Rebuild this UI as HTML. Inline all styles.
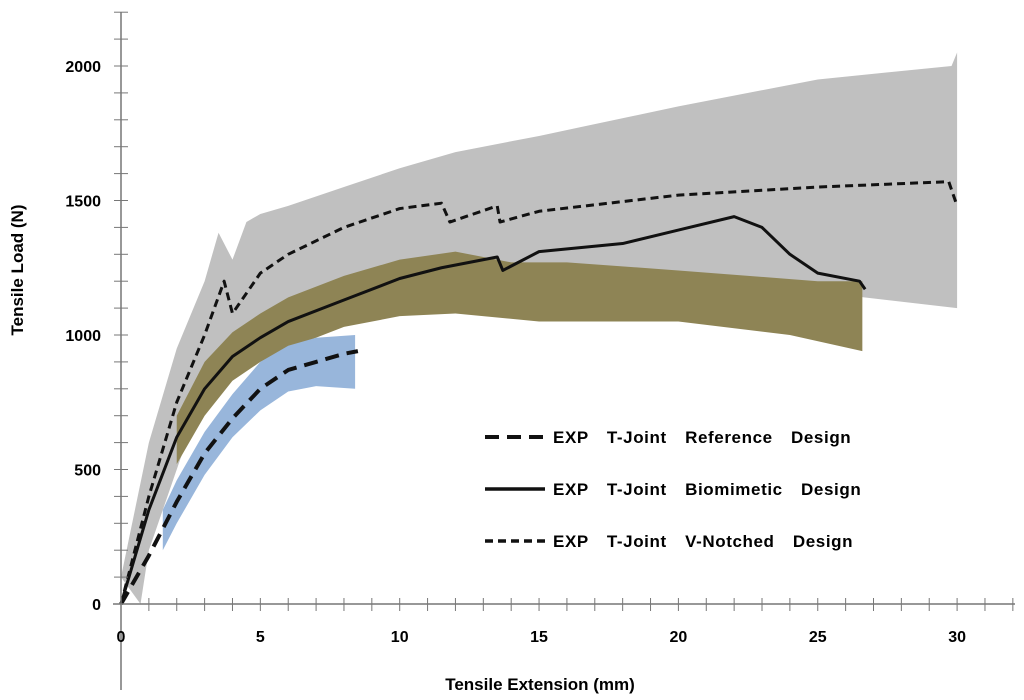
<!DOCTYPE html>
<html><head><meta charset="utf-8"><style>
body{margin:0;background:#fff;}
svg{display:block;font-family:"Liberation Sans",sans-serif;}
</style></head><body>
<svg id="chart" width="1024" height="700">
<g id="bands"></g><g id="lines"></g><g id="axes"></g>
<g id="legend">
 <line x1="485" y1="437" x2="545" y2="437" stroke="#111" stroke-width="4" stroke-dasharray="14,8"/>
 <text x="553" y="443" font-size="17" font-weight="bold" letter-spacing="0.6" word-spacing="13">EXP T-Joint Reference Design</text>
 <line x1="485" y1="489" x2="545" y2="489" stroke="#111" stroke-width="3.5"/>
 <text x="553" y="495" font-size="17" font-weight="bold" letter-spacing="0.6" word-spacing="13">EXP T-Joint Biomimetic Design</text>
 <line x1="485" y1="541" x2="545" y2="541" stroke="#111" stroke-width="3.5" stroke-dasharray="8,5"/>
 <text x="553" y="547" font-size="17" font-weight="bold" letter-spacing="0.6" word-spacing="13">EXP T-Joint V-Notched Design</text>
</g>
<text x="540" y="690" text-anchor="middle" font-size="17" font-weight="bold">Tensile Extension (mm)</text>
<text transform="translate(23,270) rotate(-90)" text-anchor="middle" font-size="17" font-weight="bold">Tensile Load (N)</text>
</svg>
<script>
const xTicks=[0,5,10,15,20,25,30];
const yTicks=[0,500,1000,1500,2000];
// V-notched
const vnX=[0,1,2,3,3.7,4,5,6,8,10,11.5,11.8,13.5,13.6,15,20,25,29.7,30];
const vnY=[0,400,750,1000,1200,1080,1230,1300,1400,1470,1490,1420,1480,1420,1460,1520,1550,1570,1480];
const grayUX=[0,1,2,3,3.5,4,4.5,5,6,8,10,12,15,20,25,29.8,30];
const grayUY=[100,600,950,1200,1380,1280,1420,1450,1480,1550,1620,1680,1740,1850,1950,2000,2050];
const grayLX=[0.7,1,2,3,4,5,8,10,15,20,25,30];
const grayLY=[0,200,500,800,950,1020,1150,1200,1180,1170,1160,1100];
// Biomimetic
const bioX=[0,1,2,3,4,5,6,8,10,11.5,13.5,13.7,15,18,20,22,23,24,25,26.5,26.7];
const bioY=[0,350,620,800,920,990,1050,1130,1210,1250,1290,1240,1310,1340,1390,1440,1400,1300,1230,1200,1170];
const oliveUX=[2,3,4,5,6,8,10,12,14,16,20,25,26.6];
const oliveUY=[700,900,1010,1080,1140,1220,1280,1310,1270,1270,1240,1200,1200];
const oliveLX=[2,3,4,5,6,8,10,12,15,20,24,26.6];
const oliveLY=[520,700,830,900,950,1030,1070,1080,1050,1050,1000,940];
// Reference
const refX=[0,1,2,3,4,5,6,7,8,8.5];
const refY=[0,180,380,560,690,800,870,900,930,940];
const blueUX=[1.5,2,3,4,5,6,7,8.4];
const blueUY=[350,460,640,780,900,960,990,1000];
const blueLX=[1.5,2,3,4,5,6,7,8.4];
const blueLY=[200,300,480,620,720,790,810,800];

const sx=v=>121+v*27.87, sy=v=>604-v*0.269;
const NS="http://www.w3.org/2000/svg";
function mk(tag,attrs,parent){const e=document.createElementNS(NS,tag);for(const k in attrs)e.setAttribute(k,attrs[k]);parent.appendChild(e);return e;}
function pts(X,Y){return X.map((x,i)=>sx(x)+","+sy(Y[i]));}
function band(UX,UY,LX,LY,color,name){
 const p=pts(UX,UY).concat(pts(LX,LY).reverse());
 const el=mk("polygon",{points:p.join(" "),fill:color},document.getElementById("bands"));
 
 
}
band(grayUX,grayUY,grayLX,grayLY,"#c0c0c0","vnotched-band");
band(oliveUX,oliveUY,oliveLX,oliveLY,"#8e8455","biomimetic-band");
band(blueUX,blueUY,blueLX,blueLY,"#98b6db","reference-band");
function line(X,Y,dash,w,name){
 const el=mk("polyline",{points:pts(X,Y).join(" "),fill:"none",stroke:"#111","stroke-width":w,"stroke-dasharray":dash,"stroke-linejoin":"round"},document.getElementById("lines"));
 
 
}
line(vnX,vnY,"8,5",3,"vnotched-line");
line(bioX,bioY,"none",3,"biomimetic-line");
line(refX,refY,"14,8",4,"reference-line");
const ax=document.getElementById("axes");
mk("line",{x1:121,y1:12,x2:121,y2:690,stroke:"#777","stroke-width":1.5},ax);
mk("line",{x1:113,y1:604,x2:1015,y2:604,stroke:"#777","stroke-width":1.5},ax);
for(let v=0;v<=2200;v+=100){mk("line",{x1:114,x2:128,y1:sy(v),y2:sy(v),stroke:"#777"},ax);}
for(let v=1;v<=32;v++){mk("line",{x1:sx(v),x2:sx(v),y1:598,y2:611,stroke:"#777"},ax);}
yTicks.forEach(v=>{const t=mk("text",{x:101,y:sy(v)+6,"text-anchor":"end","font-size":16,"font-weight":"bold"},ax);t.textContent=v;
 
 });
xTicks.forEach(v=>{const t=mk("text",{x:sx(v),y:642,"text-anchor":"middle","font-size":16,"font-weight":"bold"},ax);t.textContent=v;
 
 });
</script>
</body></html>
